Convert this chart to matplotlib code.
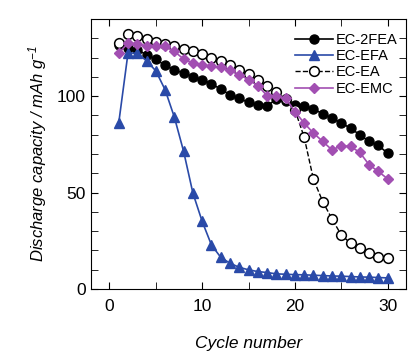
import matplotlib
matplotlib.use("Agg")
import matplotlib.pyplot as plt
from matplotlib.ticker import MultipleLocator

plt.rcParams['font.family'] = ['Liberation Sans', 'DejaVu Sans']
plt.rcParams['mathtext.default'] = 'regular'

cycles = list(range(1, 31))

ec_2fea = [126.3, 125, 124, 121.5, 119, 116, 113.5, 112, 110, 108.5,
           106.4, 103.6, 100.7, 98.8, 96.7, 95.5, 95, 98.4, 97.2, 95.5,
           95, 93.3, 90.8, 88.6, 86, 83.4, 79.9, 76.5, 74.4, 70.4]
ec_efa = [86, 122.3, 122.3, 118.3, 113.1, 103.3, 89.1, 71.3, 49.7, 35,
          22.8, 16.4, 13.3, 11.2, 9.9, 9, 8.5, 7.8, 7.6, 7.4,
          7.3, 7.1, 6.9, 6.7, 6.6, 6.4, 6.2, 6.1, 5.9, 5.7]
ec_ea = [127.5, 132.2, 131.3, 129.6, 127.9, 127, 125.8, 124.4, 123.2, 121.8,
         119.7, 118, 116.3, 113.7, 111.6, 108.5, 105.4, 101.9, 98.4, 92.9,
         78.7, 56.9, 45.3, 36.3, 28, 23.7, 21.1, 18.5, 16.4, 15.9]
ec_emc = [122.3, 127.5, 127, 126.1, 126.1, 125.8, 123.2, 119.2, 117.1, 115.9,
          115.4, 114.9, 113.3, 111.1, 108.5, 105.4, 100.2, 99.8, 99, 92,
          86, 80.8, 76.5, 72.1, 74.2, 73.9, 70.8, 64.4, 60.9, 57.1]

fig = plt.figure(figsize=(4.17, 3.58), dpi=100)
ax = fig.add_axes([0.218, 0.193, 0.756, 0.754])

ms = 6.5
ax.plot(cycles, ec_2fea, '-o', color='black', mfc='black', ms=ms, lw=1.2, label='EC-2FEA')
ax.plot(cycles, ec_efa, '-^', color='#2a4aa8', ms=ms, lw=1.2, label='EC-EFA')
ax.plot(cycles, ec_ea, '--o', color='black', mfc='white', mew=1.1, ms=ms + 0.5, lw=1.0, label='EC-EA')
ax.plot(cycles, ec_emc, '-D', color='#a24fb2', ms=ms - 1, lw=1.2, label='EC-EMC')

ax.set_xlim(-2, 32)
ax.set_ylim(0, 140)
ax.xaxis.set_major_locator(MultipleLocator(10))
ax.xaxis.set_minor_locator(MultipleLocator(5))
ax.yaxis.set_major_locator(MultipleLocator(50))
ax.yaxis.set_minor_locator(MultipleLocator(10))
ax.tick_params(which='both', direction='in', top=True, right=True, labelsize=12.5)
ax.tick_params(which='major', length=5)
ax.tick_params(which='minor', length=5)
ax.tick_params(axis='x', pad=7)

ax.set_xlabel('Cycle number', fontsize=12.5, style='italic', labelpad=16)
ax.set_ylabel('Discharge capacity / mAh g$^{-1}$', fontsize=12, style='italic', labelpad=6)

ax.legend(loc='upper right', frameon=False, fontsize=10.5, handlelength=2.6,
          handletextpad=0.2, labelspacing=0.15, borderaxespad=0.2,
          bbox_to_anchor=(1.0, 0.98))

fig.savefig('out.png', dpi=100)
